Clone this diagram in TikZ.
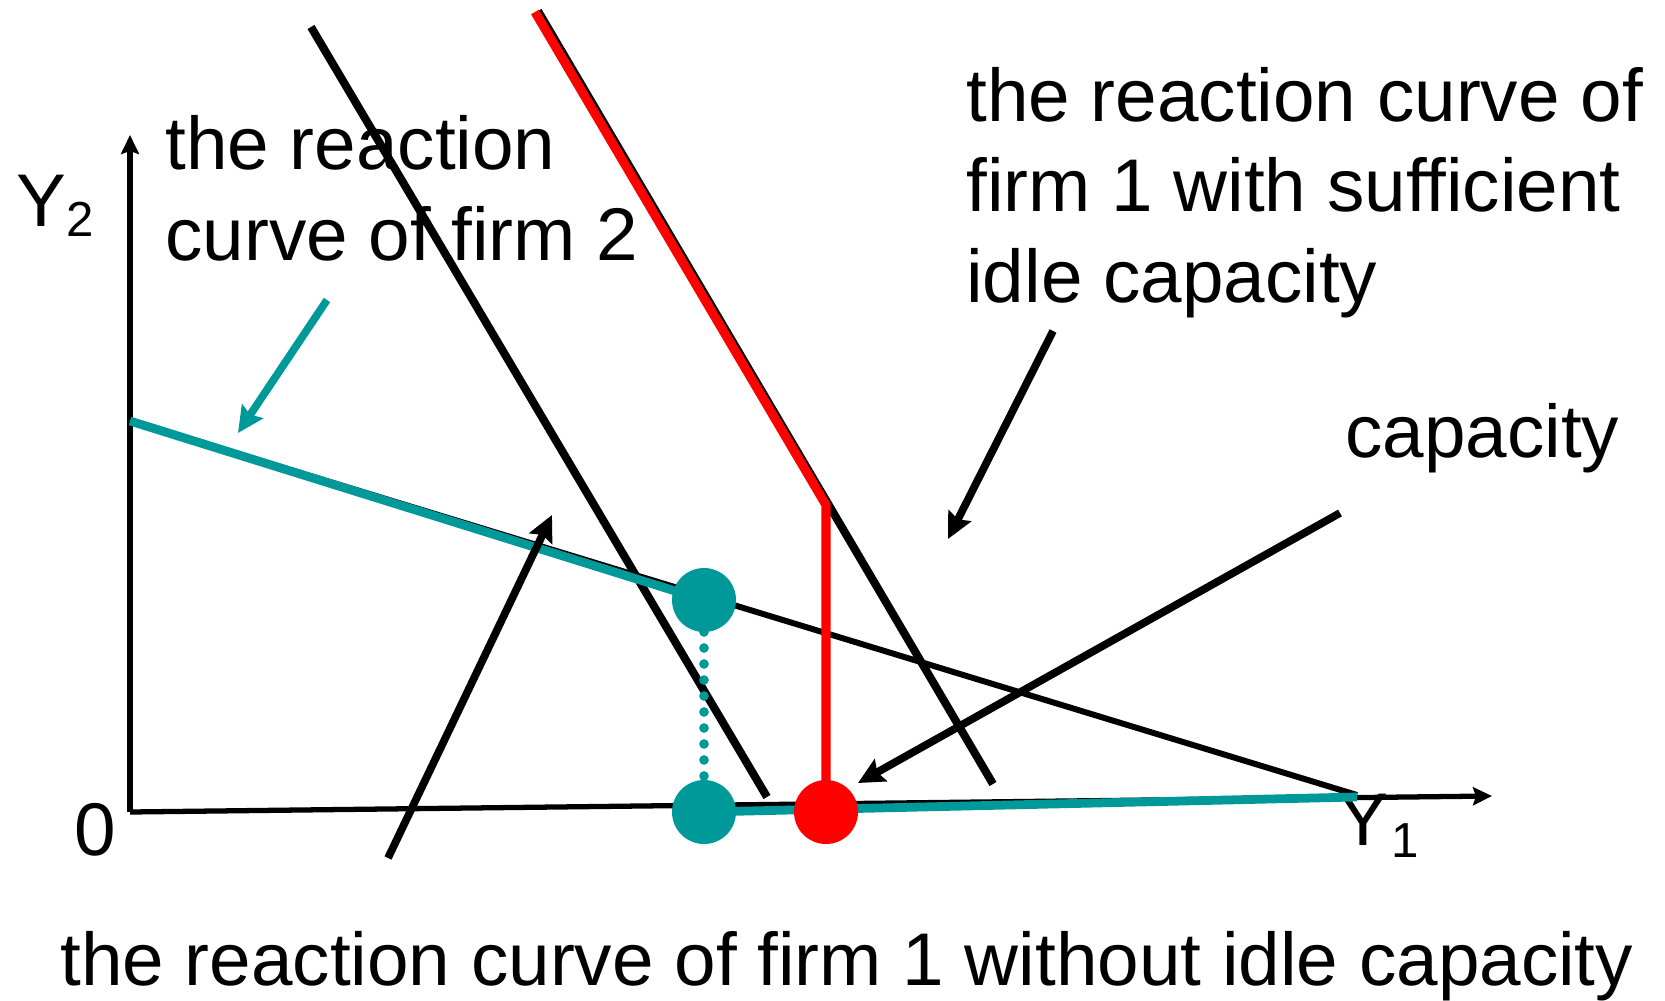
\documentclass[tikz,border=0pt]{standalone}
\usepackage{fontspec}
\setmainfont{Liberation Sans}
\usepackage{tikz}
\usetikzlibrary{arrows.meta}
\definecolor{firmteal}{RGB}{0,153,153}
\definecolor{firmred}{RGB}{255,0,0}

\begin{document}
\begin{tikzpicture}[
    x=0.02cm, y=-0.02cm,
    axis/.style={line width=3pt, -{Stealth[length=0.38cm, width=0.36cm, inset=0.06cm]}},
    curve/.style={line width=4.6pt},
    thincurve/.style={line width=3.4pt},
    tealcurve/.style={line width=5pt, draw=firmteal},
    redcurve/.style={line width=5.2pt, draw=firmred},
    tealdots/.style={line width=5.5pt, draw=firmteal, line cap=round, dash pattern=on 0pt off 0.32cm},
    arr/.style={line width=4.4pt, -{Stealth[length=0.52cm, width=0.5cm, inset=0.08cm]}},
    lbl/.style={font=\fontsize{42.5}{51.5}\selectfont, align=left, inner sep=0pt, anchor=base west},
    dotpt/.style={circle, minimum size=1.28cm, inner sep=0pt}
]
    \useasboundingbox (0,0) rectangle (1665,1000);

    % axes
    \coordinate (O) at (130,812);
    \coordinate (ytip) at (130,135);
    \coordinate (xtip) at (1492,796);
    \draw[axis] (O) -- (ytip);
    \draw[axis] (O) -- (xtip);
    \node[lbl] (ylbl) at (16,226) {Y\raisebox{-6pt}{\fontsize{28}{28}\selectfont 2}};
    \node[lbl] (xlbl) at (1338,845) {Y\kern2pt\raisebox{-7pt}{\fontsize{28}{28}\selectfont 1}};
    \node[lbl] (olbl) at (74,855) {0};

    % points on the curves
    \coordinate (rtwostart) at (130,421);
    \coordinate (rtwoend) at (1357,795);
    \coordinate (ronetop) at (311,27);
    \coordinate (ronebot) at (767,797);
    \coordinate (rcaptop) at (538,11);
    \coordinate (rcapbot) at (993,784);
    \coordinate (redtop) at (535,12);
    \coordinate (redknee) at (826,505);
    \coordinate (eqtop) at (704,600);
    \coordinate (eqbot) at (704,812);
    \coordinate (eqcap) at (826,812);
    \coordinate (tealend) at (1357,797);

    % reaction curves
    \draw[thincurve] (rtwostart) -- (rtwoend);
    \draw[curve] (ronetop) -- (ronebot);
    \draw[curve] (rcaptop) -- (rcapbot);
    \draw[tealcurve] (rtwostart) -- (eqtop);
    \draw[tealcurve] (eqbot) -- (tealend);
    \draw[redcurve] (redtop) -- (redknee) -- (eqcap);
    \draw[tealdots] (eqtop) -- (eqbot);

    % equilibria
    \node[dotpt, fill=firmteal] (eqtopdot) at (eqtop) {};
    \node[dotpt, fill=firmteal] (eqbotdot) at (eqbot) {};
    \node[dotpt, fill=firmred] (eqcapdot) at (eqcap) {};

    % labels
    \node[lbl] (lblfirmtwo) at (165,260) {the reaction\\curve of firm 2};
    \node[lbl] (lblidle) at (966,302) {the reaction curve of\\firm 1 with sufficient\\idle capacity};
    \node[lbl] (lblcap) at (1345,457) {capacity};
    \node[lbl] (lblnoidle) at (60,985) {the reaction curve of firm 1 without idle capacity};

    % pointers
    \coordinate (ptwofrom) at (327,300);
    \coordinate (ptwoto) at (238,433);
    \coordinate (pnofrom) at (388,858);
    \coordinate (pnoto) at (552,515);
    \coordinate (pidlefrom) at (1053,331);
    \coordinate (pidleto) at (948,539);
    \coordinate (pcapfrom) at (1340,513);
    \coordinate (pcapto) at (858,783);
    \draw[arr, draw=firmteal, fill=firmteal] (ptwofrom) -- (ptwoto);
    \draw[arr] (pnofrom) -- (pnoto);
    \draw[arr] (pidlefrom) -- (pidleto);
    \draw[arr] (pcapfrom) -- (pcapto);
\end{tikzpicture}
\end{document}
